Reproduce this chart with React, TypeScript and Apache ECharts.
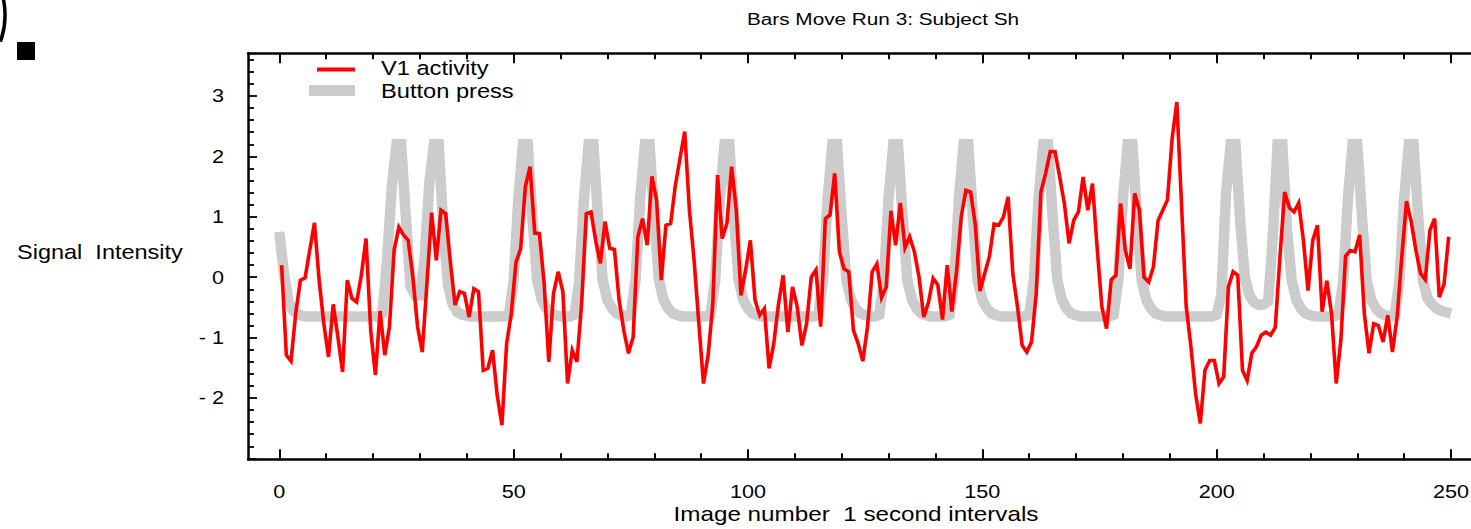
import React, { useEffect, useRef } from "react";
import * as echarts from "echarts";

const TITLE = "Bars Move Run 3: Subject Sh";
const X_NAME = "Image number  1 second intervals";
const Y_NAME = "Signal  Intensity";
const LEGEND_NAMES = ["V1 activity", "Button press"];

const xMajorTicks = [0, 50, 100, 150, 200, 250];
const xMinorTicks = [10, 20, 30, 40, 60, 70, 80, 90, 110, 120, 130, 140, 160, 170, 180, 190, 210, 220, 230, 240];
const yMajorTicks = [-3, -2, -1, 0, 1, 2, 3];
const yMinorTicks = [-2.8, -2.6, -2.4, -2.2, -1.8, -1.6, -1.4, -1.2, -0.8, -0.6, -0.4, -0.2, 0.2, 0.4, 0.6, 0.8, 1.2, 1.4, 1.6, 1.8, 2.2, 2.4, 2.6, 2.8, 3.2, 3.4, 3.6];
const yLabelValues = [-2, -1, 0, 1, 2, 3];
const yLabelTexts = ["- 2", "- 1", "0", "1", "2", "3"];
const xLabelTexts = ["0", "50", "100", "150", "200", "250"];

// V1 activity, one value per image (red)
const v1Activity = [
  0.2, -1.29, -1.39, -0.6, -0.05, -0.01, 0.45, 0.9, -0.05, -0.77,
  -1.32, -0.45, -0.99, -1.57, -0.05, -0.35, -0.41, 0.03, 0.64, -0.88,
  -1.62, -0.56, -1.29, -0.82, 0.45, 0.83, 0.7, 0.61, 0.0, -0.82,
  -1.24, -0.1, 1.07, 0.28, 1.11, 1.05, 0.25, -0.46, -0.24, -0.27,
  -0.66, -0.19, -0.24, -1.54, -1.51, -1.21, -1.96, -2.45, -1.1, -0.6,
  0.25, 0.47, 1.5, 1.83, 0.73, 0.72, -0.1, -1.4, -0.27, 0.09,
  -0.24, -1.76, -1.21, -1.4, -0.44, 1.05, 1.08, 0.61, 0.23, 0.92,
  0.48, 0.46, -0.38, -0.88, -1.26, -0.99, 0.67, 0.97, 0.53, 1.67,
  1.28, -0.05, 0.86, 0.89, 1.52, 1.97, 2.41, 1.11, 0.28, -0.75,
  -1.76, -1.29, -0.44, 1.69, 0.64, 0.89, 1.83, 1.11, -0.3, 0.12,
  0.61, -0.38, -0.63, -0.52, -1.51, -1.1, -0.45, 0.03, -0.91, -0.16,
  -0.49, -1.13, -0.77, 0.0, 0.12, -0.82, 0.97, 1.03, 1.72, 0.42,
  0.14, 0.09, -0.88, -1.1, -1.39, -0.82, 0.09, 0.22, -0.34, -0.16,
  1.1, 0.53, 1.23, 0.49, 0.67, 0.42, 0.0, -0.66, -0.42, -0.02,
  -0.13, -0.7, 0.2, -0.57, 0.1, 1.0, 1.44, 1.41, 0.87, -0.23,
  0.06, 0.34, 0.88, 0.86, 1.0, 1.33, 0.06, -0.49, -1.13, -1.24,
  -1.07, -0.27, 1.41, 1.72, 2.08, 2.08, 1.66, 1.22, 0.56, 0.94,
  1.08, 1.66, 1.11, 1.55, 0.48, -0.49, -0.85, -0.04, 0.03, 1.22,
  0.45, 0.14, 1.39, 1.11, 0.0, -0.08, 0.17, 0.94, 1.11, 1.28,
  2.3, 2.9, 1.2, -0.49, -1.15, -1.93, -2.42, -1.54, -1.38, -1.38,
  -1.76, -1.65, -0.16, 0.09, 0.03, -1.54, -1.71, -1.26, -1.15, -0.96,
  -0.91, -0.96, -0.83, 0.34, 1.41, 1.15, 1.08, 1.23, 0.61, -0.22,
  0.61, 0.86, -0.57, -0.06, -0.6, -1.76, -1.04, 0.35, 0.44, 0.42,
  0.7, -0.6, -1.26, -0.77, -0.8, -1.07, -0.63, -1.24, -0.66, 0.34,
  1.26, 0.92, 0.45, 0.06, -0.04, 0.78, 0.97, -0.33, -0.12, 0.67,
];
const v1Offset = 0.5; // image index of first V1 sample relative to axis

// Button press regressor (grey), images 0..250
const buttonPress = [
  0.75, 0.06, -0.42, -0.56, -0.61, -0.64, -0.65, -0.65, -0.65, -0.65,
  -0.65, -0.65, -0.65, -0.65, -0.65, -0.65, -0.65, -0.65, -0.65, -0.65,
  -0.65, -0.65, -0.6, 0.3, 1.5, 2.2, 2.2, 1.0, -0.15, -0.3,
  -0.3, 0.3, 1.55, 2.2, 2.2, 0.8, -0.13, -0.45, -0.58, -0.62,
  -0.64, -0.65, -0.65, -0.65, -0.65, -0.65, -0.65, -0.65, -0.65, -0.62,
  -0.05, 1.3, 2.2, 2.2, 1.0, -0.05, -0.38, -0.52, -0.6, -0.63,
  -0.65, -0.65, -0.65, -0.62, -0.05, 1.3, 2.2, 2.2, 1.0, -0.05,
  -0.38, -0.52, -0.6, -0.63, -0.65, -0.62, -0.05, 1.3, 2.2, 2.2,
  1.0, -0.05, -0.38, -0.52, -0.6, -0.63, -0.65, -0.65, -0.65, -0.65,
  -0.65, -0.65, -0.62, -0.05, 1.3, 2.2, 2.2, 1.0, -0.05, -0.38,
  -0.52, -0.6, -0.63, -0.65, -0.65, -0.65, -0.65, -0.65, -0.65, -0.65,
  -0.65, -0.65, -0.65, -0.65, -0.65, -0.62, -0.05, 1.3, 2.2, 2.2,
  1.0, -0.05, -0.38, -0.52, -0.6, -0.63, -0.65, -0.65, -0.62, -0.05,
  1.3, 2.2, 2.2, 1.0, -0.05, -0.38, -0.52, -0.6, -0.63, -0.65,
  -0.65, -0.65, -0.65, -0.62, -0.05, 1.3, 2.2, 2.2, 1.0, -0.05,
  -0.38, -0.52, -0.6, -0.63, -0.65, -0.65, -0.65, -0.65, -0.65, -0.65,
  -0.62, -0.05, 1.3, 2.2, 2.2, 1.0, -0.05, -0.38, -0.52, -0.6,
  -0.63, -0.65, -0.65, -0.65, -0.65, -0.65, -0.65, -0.65, -0.62, -0.05,
  1.3, 2.2, 2.2, 1.0, -0.05, -0.38, -0.52, -0.6, -0.63, -0.65,
  -0.65, -0.65, -0.65, -0.65, -0.65, -0.65, -0.65, -0.65, -0.65, -0.65,
  -0.62, -0.3, 1.4, 2.2, 2.2, 0.95, 0.0, -0.3, -0.42, -0.46,
  -0.45, -0.4, 0.7, 2.2, 2.2, 0.8, -0.05, -0.38, -0.52, -0.6,
  -0.63, -0.65, -0.65, -0.65, -0.65, -0.65, -0.62, -0.05, 1.3, 2.2,
  2.2, 1.0, -0.05, -0.38, -0.52, -0.6, -0.63, -0.65, -0.62, -0.05,
  1.3, 2.2, 2.2, 1.0, -0.05, -0.35, -0.45, -0.52, -0.56, -0.58,
  -0.6,
];

const RED = "#ff0000";
const GREY = "#cccccc";
const FONT = "'Liberation Sans', Arial, Helvetica, sans-serif";
const STRETCH = 1.2;

export default function App() {
  const ref = useRef<HTMLDivElement>(null);

  useEffect(() => {
    const el = ref.current;
    if (!el) return;
    const chart = echarts.init(el, null, { renderer: "svg" });

    const X_MIN = -6.68;
    const X_MAX = 254.26;
    const Y_MIN = -3.015;
    const Y_MAX = 3.707;

    const mkX = (pos: string, ticks: number[], len: number, showLine: boolean) => ({
      type: "value",
      position: pos,
      min: X_MIN,
      max: X_MAX,
      axisLine: { show: showLine, onZero: false, lineStyle: { color: "#000", width: 2.5 } },
      axisTick: { show: true, inside: true, length: len, customValues: ticks, lineStyle: { color: "#000", width: 2 } },
      axisLabel: { show: false },
      splitLine: { show: false },
    });
    const mkY = (ticks: number[], len: number, showLine: boolean) => ({
      type: "value",
      position: "left",
      min: Y_MIN,
      max: Y_MAX,
      axisLine: { show: showLine, onZero: false, lineStyle: { color: "#000", width: 2.5 } },
      axisTick: { show: true, inside: true, length: len, customValues: ticks, lineStyle: { color: "#000", width: 1.8 } },
      axisLabel: { show: false },
      splitLine: { show: false },
    });

    chart.setOption({
      animation: false,
      backgroundColor: "#ffffff",
      grid: { left: 248, top: 53.3, right: 0, height: 406, containLabel: false },
      xAxis: [
        mkX("bottom", xMajorTicks, 10, true),
        mkX("bottom", xMinorTicks, 6, false),
        mkX("top", xMajorTicks, 10, true),
        mkX("top", xMinorTicks, 6, false),
      ],
      yAxis: [mkY(yMajorTicks, 9, true), mkY(yMinorTicks, 6, false)],
      series: [
        {
          name: LEGEND_NAMES[1],
          type: "line",
          xAxisIndex: 0,
          yAxisIndex: 0,
          data: buttonPress.map((v, i) => [i, v]),
          showSymbol: false,
          silent: true,
          z: 1,
          lineStyle: { color: GREY, width: 10.5, join: "miter", miterLimit: 3, cap: "butt" },
        },
        {
          name: LEGEND_NAMES[0],
          type: "line",
          xAxisIndex: 0,
          yAxisIndex: 0,
          data: v1Activity.map((v, i) => [i + v1Offset, v]),
          showSymbol: false,
          silent: true,
          z: 2,
          lineStyle: { color: RED, width: 3.6, join: "miter", cap: "butt" },
        },
      ],
    });

    const px = (v: number) => chart.convertToPixel({ xAxisIndex: 0 }, v) as number;
    const py = (v: number) => chart.convertToPixel({ yAxisIndex: 0 }, v) as number;
    const gridLeft = px(X_MIN);
    const gridBottom = py(Y_MIN);

    const txt = (text: string, x: number, y: number, size: number, align: string) => ({
      type: "text",
      x,
      y,
      scaleX: STRETCH,
      silent: true,
      z: 10,
      style: {
        text,
        fill: "#000",
        fontSize: size,
        fontFamily: FONT,
        align,
        verticalAlign: "middle",
        textAlign: align,
        textVerticalAlign: "middle",
      },
    });

    const graphics: any[] = [];
    xMajorTicks.forEach((v, i) => graphics.push(txt(xLabelTexts[i], px(v), gridBottom + 32, 18, "center")));
    yLabelValues.forEach((v, i) => graphics.push(txt(yLabelTexts[i], gridLeft - 24, py(v), 18, "right")));
    graphics.push(txt(TITLE, 883, 19, 17.3, "center"));
    graphics.push(txt(X_NAME, 856, 514, 20.2, "center"));
    graphics.push(txt(Y_NAME, 17, 252, 19.6, "left"));
    graphics.push(txt(LEGEND_NAMES[0], 381, 68, 19.7, "left"));
    graphics.push(txt(LEGEND_NAMES[1], 381, 91.5, 19.7, "left"));
    graphics.push({
      type: "line",
      silent: true,
      z: 10,
      shape: { x1: 317, y1: 69.5, x2: 355, y2: 69.5 },
      style: { stroke: RED, lineWidth: 4 },
    });
    graphics.push({
      type: "line",
      silent: true,
      z: 10,
      shape: { x1: 309, y1: 90.5, x2: 355, y2: 90.5 },
      style: { stroke: GREY, lineWidth: 11 },
    });
    graphics.push({
      type: "rect",
      silent: true,
      shape: { x: 17, y: 42, width: 18, height: 18 },
      style: { fill: "#000" },
    });
    graphics.push({
      type: "arc",
      silent: true,
      shape: { cx: -75, cy: 15, r: 80, startAngle: -0.25, endAngle: 0.34, clockwise: true },
      style: { stroke: "#000", lineWidth: 3.5, fill: "none" },
    });

    chart.setOption({ graphic: graphics });

    return () => {
      chart.dispose();
    };
  }, []);

  return (
    <div
      ref={ref}
      style={{ position: "absolute", left: 0, top: 0, width: 1471, height: 529, background: "#fff" }}
    />
  );
}
